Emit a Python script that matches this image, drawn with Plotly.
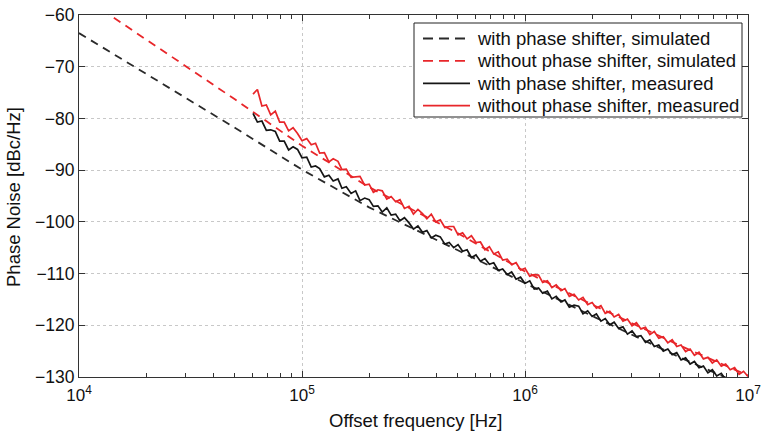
import plotly.graph_objects as go

# Simulated phase noise (model curves)
f_sim = [1e4, 2e4, 5e4, 1e5, 2e5, 5e5, 1e6, 2e6, 5e6, 1e7]
pn_sim_with = [-63.5, -71.4, -81.8, -89.9, -97.2, -105.5, -111.8, -118.2, -126.3, -132.0]
pn_sim_without = [-56.0, -64.7, -76.3, -85.3, -93.3, -102.2, -109.6, -116.0, -124.0, -129.7]

# Measured offset frequencies [Hz]
f_meas = [
    6.03e4, 6.31e4, 6.61e4, 6.92e4, 7.24e4, 7.59e4, 7.94e4, 8.32e4, 8.71e4, 9.12e4, 9.55e4,
    1.00e5, 1.05e5, 1.10e5, 1.15e5, 1.20e5, 1.26e5, 1.32e5, 1.38e5, 1.45e5, 1.51e5,
    1.58e5, 1.66e5, 1.74e5, 1.82e5, 1.91e5, 2.00e5, 2.09e5, 2.19e5, 2.29e5, 2.40e5,
    2.51e5, 2.63e5, 2.75e5, 2.88e5, 3.02e5, 3.16e5, 3.31e5, 3.47e5, 3.63e5, 3.80e5,
    3.98e5, 4.17e5, 4.37e5, 4.57e5, 4.79e5, 5.01e5, 5.25e5, 5.50e5, 5.75e5, 6.03e5,
    6.31e5, 6.61e5, 6.92e5, 7.24e5, 7.59e5, 7.94e5, 8.32e5, 8.71e5, 9.12e5, 9.55e5,
    1.00e6, 1.05e6, 1.10e6, 1.15e6, 1.20e6, 1.26e6, 1.32e6, 1.38e6, 1.45e6, 1.51e6,
    1.58e6, 1.66e6, 1.74e6, 1.82e6, 1.91e6, 2.00e6, 2.09e6, 2.19e6, 2.29e6, 2.40e6,
    2.51e6, 2.63e6, 2.75e6, 2.88e6, 3.02e6, 3.16e6, 3.31e6, 3.47e6, 3.63e6, 3.80e6,
    3.98e6, 4.17e6, 4.37e6, 4.57e6, 4.79e6, 5.01e6, 5.25e6, 5.50e6, 5.75e6, 6.03e6,
    6.31e6, 6.61e6, 6.92e6, 7.24e6, 7.59e6, 7.94e6, 8.32e6, 8.71e6, 9.12e6, 9.55e6,
    1.00e7,
]

# Measured phase noise with phase shifter [dBc/Hz]
pn_meas_with = [
    -79.0, -80.7, -80.5, -82.3, -82.2, -82.5, -84.4, -84.4, -86.1, -85.5, -86.0,
    -87.6, -87.5, -89.4, -89.2, -89.7, -91.3, -91.0, -92.1, -91.7, -93.5,
    -93.2, -94.5, -94.0, -95.9, -95.4, -95.7, -97.0, -96.9, -98.1, -97.3,
    -98.7, -98.5, -99.8, -99.2, -100.2, -101.4, -100.8, -102.0, -101.7, -103.1,
    -102.6, -102.9, -104.3, -104.0, -105.0, -104.4, -105.7, -105.4, -106.9, -106.4,
    -107.6, -107.1, -108.2, -107.9, -109.4, -109.1, -110.2, -109.7, -111.1, -110.7,
    -111.9, -111.4, -113.0, -112.8, -113.8, -113.4, -114.9, -114.4, -115.5, -115.1,
    -116.5, -116.1, -116.3, -117.8, -117.2, -118.3, -117.8, -119.2, -118.7, -119.9,
    -119.4, -120.6, -120.3, -121.7, -121.1, -122.2, -122.0, -123.3, -122.8, -124.1,
    -123.8, -125.0, -124.6, -125.7, -125.3, -126.7, -126.3, -127.5, -127.0, -128.2,
    -127.9, -129.2, -128.6, -129.8, -129.3, -130.5, -130.2, -131.5, -131.1, -132.2,
    -131.9,
]

# Measured phase noise without phase shifter [dBc/Hz]
pn_meas_without = [
    -75.3, -74.4, -77.6, -77.4, -79.3, -78.6, -80.7, -80.7, -82.4, -81.8, -82.9,
    -84.3, -83.9, -85.1, -84.8, -86.7, -86.6, -88.4, -87.8, -88.3, -89.9,
    -89.8, -91.4, -91.3, -91.2, -92.9, -92.7, -94.3, -93.8, -94.0, -95.6,
    -95.1, -96.1, -95.7, -97.4, -97.0, -98.5, -97.6, -98.4, -99.4, -98.5,
    -100.0, -99.6, -101.1, -100.9, -100.9, -102.5, -102.1, -103.3, -102.7, -104.0,
    -103.9, -105.4, -104.8, -106.2, -105.8, -107.4, -107.2, -108.3, -107.9, -109.3,
    -109.0, -110.5, -110.2, -110.3, -111.7, -111.4, -112.7, -112.2, -113.3, -112.9,
    -114.4, -114.0, -115.1, -114.6, -116.0, -115.6, -116.7, -116.2, -117.7, -117.3,
    -118.4, -117.9, -119.2, -118.8, -120.1, -119.5, -120.7, -120.4, -121.8, -121.2,
    -122.5, -122.2, -123.4, -122.8, -124.1, -123.8, -125.1, -124.6, -125.8, -125.2,
    -126.5, -126.2, -127.3, -126.7, -127.9, -127.5, -128.6, -128.2, -129.5, -128.9,
    -129.9,
]

legend_names = [
    "with phase shifter, simulated",
    "without phase shifter, simulated",
    "with phase shifter, measured",
    "without phase shifter, measured",
]

x_tickvals = [1e4, 1e5, 1e6, 1e7]
x_ticktext = ["10<sup>4</sup>", "10<sup>5</sup>", "10<sup>6</sup>", "10<sup>7</sup>"]
x_minor_tickvals = [m * d for d in (1e4, 1e5, 1e6) for m in (2, 3, 4, 5, 6, 7, 8, 9)]
y_tickvals = [-130, -120, -110, -100, -90, -80, -70, -60]

BLACK = "#151515"
DASH_BLACK = "#2a2a2a"
RED = "#e8262a"
AXIS = "#333333"
FONT = "Liberation Sans, Arial, Helvetica, sans-serif"

# plot area in pixels
W, H = 764, 433
L, R, T, B = 79, 16, 15, 56
PW, PH = W - L - R, H - T - B


def px_x(x):
    return (x - L) / PW


def px_y(y):
    return (H - B - y) / PH


styles = [
    dict(color=DASH_BLACK, width=1.8, dash="8px,6px"),
    dict(color=RED, width=1.8, dash="8px,6px"),
    dict(color=BLACK, width=1.7),
    dict(color=RED, width=1.7),
]
series = [
    (f_sim, pn_sim_with),
    (f_sim, pn_sim_without),
    (f_meas, pn_meas_with),
    (f_meas, pn_meas_without),
]

fig = go.Figure()
for (xs, ys), name, st in zip(series, legend_names, styles):
    fig.add_trace(go.Scatter(x=xs, y=ys, mode="lines", name=name, line=st, showlegend=False))

# empty trace that carries the top (mirrored) log axis with its minor ticks
fig.add_trace(go.Scatter(x=[], y=[], xaxis="x2", yaxis="y", showlegend=False, hoverinfo="skip"))

# legend box drawn in paper coordinates
shapes = [dict(type="rect", xref="paper", yref="paper",
               x0=px_x(414), x1=px_x(742), y0=px_y(117), y1=px_y(23),
               line=dict(color="#222222", width=1), fillcolor="white", layer="above")]
annotations = []
for i, (name, st) in enumerate(zip(legend_names, styles)):
    yy = px_y(38.5 + 22.4 * i)
    shapes.append(dict(type="line", xref="paper", yref="paper",
                       x0=px_x(423), x1=px_x(470), y0=yy, y1=yy,
                       line=dict(color=st["color"], width=1.8,
                                 dash="10px,6px" if "dash" in st else "solid"),
                       layer="above"))
    annotations.append(dict(xref="paper", yref="paper", x=px_x(475), y=yy,
                            xanchor="left", yanchor="middle", showarrow=False,
                            text=name, font=dict(size=18.5, family=FONT, color="#111111")))

# axis titles
annotations.append(dict(xref="paper", yref="paper", x=px_x(415), y=px_y(420),
                        xanchor="center", yanchor="middle", showarrow=False,
                        text="Offset frequency [Hz]", font=dict(size=18.5, family=FONT, color="#111111")))
annotations.append(dict(xref="paper", yref="paper", x=px_x(14), y=px_y(197),
                        xanchor="center", yanchor="middle", showarrow=False, textangle=-90,
                        text="Phase Noise [dBc/Hz]", font=dict(size=18.5, family=FONT, color="#111111")))

fig.update_layout(
    width=W, height=H,
    margin=dict(l=L, r=R, t=T, b=B),
    paper_bgcolor="white", plot_bgcolor="white",
    font=dict(family=FONT, size=17.5, color="#111111"),
    showlegend=False,
    shapes=shapes,
    annotations=annotations,
)

fig.update_layout(
    xaxis=dict(
        type="log", range=[4, 7], automargin=False,
        tickvals=x_tickvals, ticktext=x_ticktext, ticklabelstandoff=3,
        tickfont=dict(size=17),
        ticks="inside", ticklen=6, tickcolor=AXIS,
        showline=True, linecolor=AXIS, linewidth=1, mirror=True,
        showgrid=True, gridcolor="#c8c8c8", griddash="dot", gridwidth=1,
        minor=dict(tickvals=x_minor_tickvals, ticks="inside", ticklen=4, tickcolor=AXIS, showgrid=False),
        zeroline=False,
    ),
    xaxis2=dict(
        type="log", range=[4, 7], automargin=False, overlaying="x", side="top", anchor="y",
        tickvals=x_tickvals, showticklabels=False,
        ticks="inside", ticklen=6, tickcolor=AXIS,
        showline=False, showgrid=False, zeroline=False,
        minor=dict(tickvals=x_minor_tickvals, ticks="inside", ticklen=4, tickcolor=AXIS, showgrid=False),
    ),
    yaxis=dict(
        range=[-130, -60], automargin=False,
        tickvals=y_tickvals,
        ticks="inside", ticklen=6, tickcolor=AXIS,
        showline=True, linecolor=AXIS, linewidth=1, mirror="ticks",
        showgrid=True, gridcolor="#c8c8c8", griddash="dot", gridwidth=1,
        zeroline=False,
    ),
)

fig.write_html("out.html")
